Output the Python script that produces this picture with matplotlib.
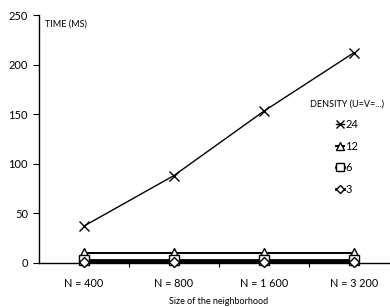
import matplotlib
matplotlib.use("Agg")
import matplotlib.pyplot as plt

categories = ["N = 400", "N = 800", "N = 1 600", "N = 3 200"]
series_labels = ["24", "12", "6", "3"]
vals_24 = [37, 88, 153, 212]
vals_12 = [10, 10, 10, 10]
vals_6 = [2.5, 2.5, 2.5, 2.5]
vals_3 = [1.2, 1.2, 1.2, 1.2]
yticks = [0, 50, 100, 150, 200, 250]

plt.rcParams['font.family'] = ['Lato', 'DejaVu Sans']

fig = plt.figure(figsize=(3.9, 3.07), dpi=100)
ax = fig.add_axes([0.1, 0.1443, 0.923, 0.8068])

x = list(range(len(categories)))
styles = [
    (vals_24, dict(marker='x', markersize=7, linewidth=1.0, markeredgewidth=1.0, color='black')),
    (vals_12, dict(marker='^', markersize=7, linewidth=1.4, markeredgewidth=1.0, color='black', markerfacecolor='white')),
    (vals_6, dict(marker='s', markersize=6.5, linewidth=2.0, markeredgewidth=1.0, color='black', markerfacecolor='white')),
    (vals_3, dict(marker='D', markersize=5.5, linewidth=2.0, markeredgewidth=1.0, color='black', markerfacecolor='white')),
]
handles = []
for (vals, st), lab in zip(styles, series_labels):
    h, = ax.plot(x, vals, label=lab, clip_on=False, zorder=3, **st)
    handles.append(h)

ax.set_xlim(-0.5, 3.5)
ax.set_ylim(0, 250)
ax.set_yticks(yticks)
ax.set_yticklabels([str(v) for v in yticks], fontsize=8)
ax.set_xticks(x)
ax.set_xticklabels(categories, fontsize=7.8)
ax.tick_params(axis='x', which='major', length=0, pad=11)
ax.set_xticks([0.5, 1.5, 2.5], minor=True)
ax.tick_params(axis='x', which='minor', length=3, direction='out', width=0.8)
ax.tick_params(axis='y', length=4, direction='out', width=0.8, pad=4)
for s in ['top', 'right']:
    ax.spines[s].set_visible(False)
ax.spines['left'].set_linewidth(1.0)
ax.spines['bottom'].set_linewidth(1.0)

ax.set_xlabel("Size of the neighborhood", fontsize=6.5, labelpad=6)
fig.text(45 / 390, 1 - 24 / 307, "TIME (MS)", fontsize=6.5, va='center', ha='left')

leg = ax.legend(handles=handles, labels=series_labels, title="DENSITY (U=V=...)",
                loc='upper center', bbox_to_anchor=(347 / 390, 1 - 94 / 307),
                bbox_transform=fig.transFigure, frameon=False, fontsize=8,
                title_fontsize=6.5, handlelength=0.8, handletextpad=0.1,
                labelspacing=0.95, borderpad=0, markerscale=0.8)

fig.savefig("out.png", dpi=100)
